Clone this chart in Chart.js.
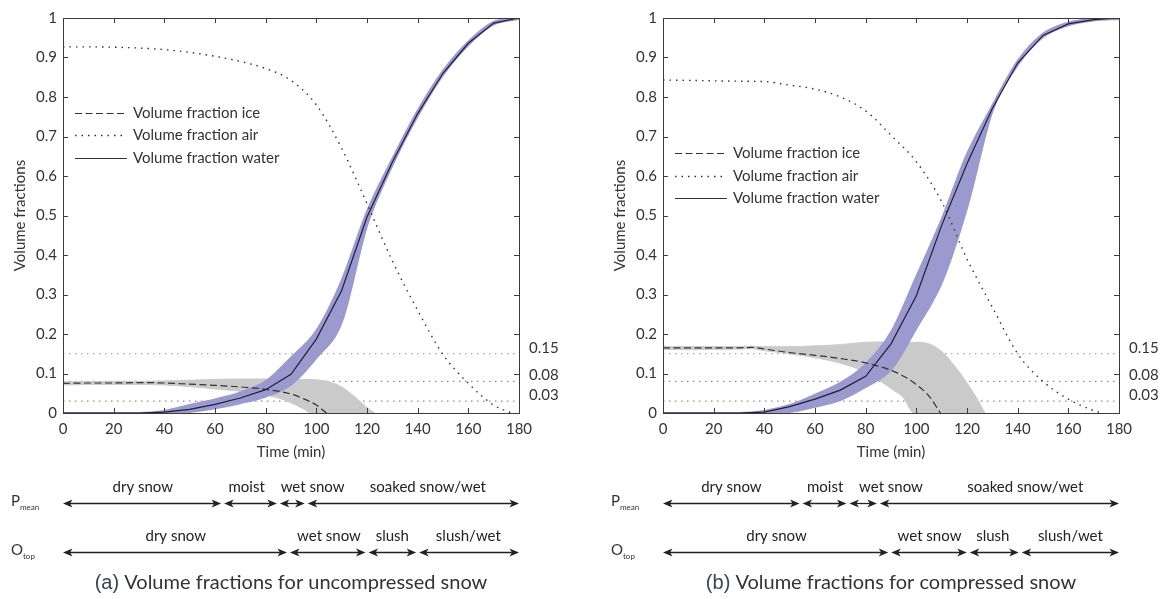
<!DOCTYPE html>
<html>
<head>
<meta charset="utf-8">
<script src="https://cdn.jsdelivr.net/npm/chart.js@4.4.1/dist/chart.umd.min.js"></script>
<style>
  body { margin: 0; background: #fff; width: 1162px; height: 599px; overflow: hidden; position: relative; }
  canvas { position: absolute; top: 0; }
  #chartA { left: 0; }
  #chartB { left: 600px; }
</style>
</head>
<body>
<canvas id="chartA" width="581" height="599"></canvas>
<canvas id="chartB" width="562" height="599"></canvas>
<script>
// ---- data ----
const timeSteps = [0, 10, 20, 30, 40, 50, 60, 70, 80, 90, 100, 110, 120, 130, 140, 150, 160, 170, 180];

// (a) uncompressed snow
const waterA     = [0, 0, 0, 0, 0.002, 0.009, 0.022, 0.038, 0.059, 0.098, 0.187, 0.31, 0.496, 0.635, 0.758, 0.86, 0.936, 0.987, 1.0];
const waterLowA  = [0, 0, 0, 0, 0, 0.003, 0.012, 0.025, 0.042, 0.072, 0.14, 0.23, 0.475, 0.627, 0.752, 0.856, 0.932, 0.984, 0.998];
const waterHighA = [0, 0, 0, 0, 0.005, 0.02, 0.034, 0.052, 0.08, 0.14, 0.208, 0.335, 0.51, 0.643, 0.765, 0.866, 0.94, 0.99, 1.0];
const iceTimeA = [0, 10, 20, 30, 40, 50, 60, 70, 80, 90, 95, 100, 104];
const iceA     = [0.075, 0.076, 0.076, 0.077, 0.076, 0.073, 0.07, 0.066, 0.06, 0.048, 0.036, 0.02, 0];
const iceBandTimeA = [0, 10, 20, 30, 40, 50, 60, 70, 80, 85, 90, 95, 98, 100, 105, 110, 115, 120, 123];
const iceHighA = [0.079, 0.079, 0.08, 0.08, 0.081, 0.083, 0.085, 0.086, 0.086, 0.086, 0.086, 0.085, 0.085, 0.084, 0.079, 0.066, 0.042, 0.014, 0];
const iceLowA  = [0.071, 0.072, 0.072, 0.072, 0.071, 0.067, 0.061, 0.055, 0.046, 0.038, 0.026, 0.01, 0, 0, 0, 0, 0, 0, 0];
const airTimeA = [0, 10, 20, 30, 40, 50, 60, 70, 80, 90, 100, 110, 120, 130, 140, 150, 160, 170, 177];
const airA     = [0.927, 0.927, 0.926, 0.924, 0.92, 0.913, 0.903, 0.89, 0.872, 0.842, 0.78, 0.67, 0.53, 0.385, 0.26, 0.148, 0.075, 0.02, 0];

// (b) compressed snow
const waterB     = [0, 0, 0, 0, 0.002, 0.016, 0.035, 0.058, 0.093, 0.175, 0.297, 0.475, 0.631, 0.771, 0.886, 0.956, 0.985, 0.996, 1.0];
const waterLowB  = [0, 0, 0, 0, 0, 0.003, 0.016, 0.033, 0.066, 0.11, 0.215, 0.33, 0.52, 0.764, 0.881, 0.952, 0.982, 0.994, 0.998];
const waterHighB = [0, 0, 0, 0, 0.005, 0.02, 0.046, 0.076, 0.123, 0.204, 0.345, 0.49, 0.655, 0.778, 0.891, 0.96, 0.988, 0.998, 1.0];
const iceTimeB = [0, 10, 20, 30, 35, 40, 50, 60, 70, 80, 90, 95, 100, 105, 109.5];
const iceB     = [0.165, 0.165, 0.165, 0.165, 0.166, 0.162, 0.153, 0.146, 0.138, 0.127, 0.108, 0.093, 0.072, 0.043, 0];
const iceBandTimeB = [0, 10, 20, 30, 35, 40, 50, 60, 70, 80, 90, 95, 99, 100, 105, 110, 115, 120, 125, 127];
const iceHighB = [0.168, 0.168, 0.168, 0.168, 0.169, 0.168, 0.168, 0.17, 0.173, 0.179, 0.18, 0.179, 0.179, 0.179, 0.175, 0.156, 0.12, 0.076, 0.025, 0];
const iceLowB  = [0.161, 0.161, 0.161, 0.162, 0.163, 0.158, 0.15, 0.14, 0.126, 0.103, 0.062, 0.038, 0, 0, 0, 0, 0, 0, 0, 0];
const airTimeB = [0, 10, 20, 30, 40, 50, 60, 70, 80, 90, 100, 110, 120, 130, 140, 150, 160, 170, 173];
const airB     = [0.843, 0.842, 0.841, 0.84, 0.839, 0.83, 0.82, 0.8, 0.765, 0.703, 0.636, 0.535, 0.39, 0.268, 0.15, 0.08, 0.035, 0.006, 0];

// threshold lines and axis ticks
const refLevels = [0.15, 0.08, 0.03];
const refLabels = ['0.15', '0.08', '0.03'];
const xTickStep = 20;
const yTickStep = 0.1;
const seriesNames = ['Volume fraction ice', 'Volume fraction air', 'Volume fraction water'];

// snow classes along the time axis
const pmeanPhases = ['dry snow', 'moist', 'wet snow', 'soaked snow/wet'];
const otopPhases  = ['dry snow', 'wet snow', 'slush', 'slush/wet'];
const pmeanBoundsA  = [0, 63, 85, 96, 180];
const pmeanLabelAtA = [31.5, 72.5, 98.5, 144];
const otopBoundsA   = [0, 89, 120, 140, 180];
const otopLabelAtA  = [44.5, 105, 130, 160];
const pmeanBoundsB  = [0, 54.5, 73, 85, 180];
const pmeanLabelAtB = [27, 64, 90, 143];
const otopBoundsB   = [0, 89.5, 120.5, 141, 180];
const otopLabelAtB  = [44.8, 105.2, 130.2, 160.8];

const FONT = 'Lato';
const TEXT = '#333';
const BLUE = '#9a9acf';
const GREY = '#cacaca';

function pts(xs, ys) {
  return xs.map((x, i) => ({ x: x, y: ys[i] }));
}

function arrowHead(ctx, x, y, dir) {
  ctx.beginPath();
  ctx.moveTo(x, y);
  ctx.lineTo(x - dir * 9.5, y - 4);
  ctx.lineTo(x - dir * 7, y);
  ctx.lineTo(x - dir * 9.5, y + 4);
  ctx.closePath();
  ctx.fill();
}

function drawRow(ctx, xs, bounds, names, at, textY, lineY) {
  ctx.font = '15px ' + FONT;
  ctx.textAlign = 'center';
  ctx.textBaseline = 'middle';
  for (let i = 0; i < names.length; i++) {
    const x1 = xs.getPixelForValue(bounds[i]) + (i > 0 ? 1.5 : 0);
    const x2 = xs.getPixelForValue(bounds[i + 1]) - (i < names.length - 1 ? 1.5 : 0);
    ctx.beginPath();
    ctx.moveTo(x1 + 4, lineY);
    ctx.lineTo(x2 - 4, lineY);
    ctx.stroke();
    arrowHead(ctx, x1, lineY, -1);
    arrowHead(ctx, x2, lineY, 1);
    ctx.fillText(names[i], xs.getPixelForValue(at[i]), textY);
  }
}

function subLabel(ctx, x, y, main, sub) {
  ctx.textAlign = 'left';
  ctx.textBaseline = 'middle';
  ctx.font = '15px ' + FONT;
  ctx.fillText(main, x, y);
  const w = ctx.measureText(main).width;
  ctx.font = '8px ' + FONT;
  ctx.fillText(sub, x + w, y + 6);
}

function decorPlugin(p) {
  return {
    id: 'decor',
    afterDraw(chart) {
      const ctx = chart.ctx;
      const xs = chart.scales.x, ys = chart.scales.y;
      const { left, right, top, bottom } = chart.chartArea;
      ctx.save();

      // box + inward ticks
      ctx.strokeStyle = '#3a3a3a';
      ctx.lineWidth = 1;
      ctx.strokeRect(Math.round(left) + 0.5, Math.round(top) + 0.5, Math.round(right - left), Math.round(bottom - top));
      ctx.beginPath();
      xs.ticks.forEach(t => {
        const x = Math.round(xs.getPixelForValue(t.value)) + 0.5;
        ctx.moveTo(x, bottom); ctx.lineTo(x, bottom - 5);
        ctx.moveTo(x, top); ctx.lineTo(x, top + 5);
      });
      ys.ticks.forEach(t => {
        const y = Math.round(ys.getPixelForValue(t.value)) + 0.5;
        ctx.moveTo(left, y); ctx.lineTo(left + 5, y);
        ctx.moveTo(right, y); ctx.lineTo(right - 5, y);
      });
      ctx.stroke();

      // threshold labels
      ctx.fillStyle = TEXT;
      ctx.font = '15px ' + FONT;
      ctx.textAlign = 'left';
      ctx.textBaseline = 'middle';
      refLevels.forEach((v, i) => {
        ctx.fillText(refLabels[i], right + 10, ys.getPixelForValue(v) - 6);
      });

      // legend
      const lx = left + 12;
      const ly = ys.getPixelForValue(p.legendAt);
      const dashes = [[7, 3.5], [1.5, 5], []];
      seriesNames.forEach((name, i) => {
        const y = Math.round(ly + i * 22.5) + 0.5;
        ctx.strokeStyle = '#333';
        ctx.lineWidth = i === 1 ? 1.4 : 1.2;
        ctx.setLineDash(dashes[i]);
        ctx.beginPath();
        ctx.moveTo(lx, y);
        ctx.lineTo(lx + 52, y);
        ctx.stroke();
        ctx.setLineDash([]);
        ctx.fillText(name, lx + 58, y);
      });

      // class arrows below the axis
      ctx.strokeStyle = '#222';
      ctx.fillStyle = '#222';
      ctx.lineWidth = 1.3;
      drawRow(ctx, xs, p.pmeanBounds, pmeanPhases, p.pmeanLabelAt, 487, 503.5);
      drawRow(ctx, xs, p.otopBounds, otopPhases, p.otopLabelAt, 536, 552.5);
      ctx.fillStyle = TEXT;
      subLabel(ctx, left - 52, 501, 'P', 'mean');
      subLabel(ctx, left - 52, 550, 'O', 'top');

      // caption
      const cx = (left + right) / 2;
      ctx.textBaseline = 'middle';
      ctx.font = '20px "Liberation Sans"';
      const w1 = ctx.measureText(p.tag).width;
      ctx.font = '20px ' + FONT;
      const w2 = ctx.measureText(p.caption).width;
      const x0 = cx - (w1 + w2) / 2;
      ctx.textAlign = 'left';
      ctx.fillStyle = '#3d4250';
      ctx.font = '20px "Liberation Sans"';
      ctx.fillText(p.tag, x0, 583);
      ctx.fillStyle = TEXT;
      ctx.font = '20px ' + FONT;
      ctx.fillText(p.caption, x0 + w1, 583);

      ctx.restore();
    }
  };
}

function makeChart(id, p) {
  const datasets = [];
  refLevels.forEach(v => {
    datasets.push({ data: [{ x: 0, y: v }, { x: 180, y: v }], borderColor: '#8a8a8a', borderWidth: 1.2,
      borderDash: [1.5, 4.5], pointRadius: 0, fill: false, order: 6 });
  });
  datasets.push({ data: pts(p.iceBandTime, p.iceHigh), borderColor: GREY, backgroundColor: GREY, borderWidth: 1,
    pointRadius: 0, fill: '+1', order: 5, cubicInterpolationMode: 'monotone' });
  datasets.push({ data: pts(p.iceBandTime, p.iceLow), borderColor: GREY, borderWidth: 1,
    pointRadius: 0, fill: false, order: 5, cubicInterpolationMode: 'monotone' });
  datasets.push({ data: pts(timeSteps, p.waterHigh), borderColor: BLUE, backgroundColor: BLUE, borderWidth: 2.2,
    pointRadius: 0, fill: '+1', order: 4, cubicInterpolationMode: 'monotone' });
  datasets.push({ data: pts(timeSteps, p.waterLow), borderColor: BLUE, borderWidth: 2.2,
    pointRadius: 0, fill: false, order: 4, cubicInterpolationMode: 'monotone' });
  datasets.push({ label: seriesNames[1], data: pts(p.airTime, p.air), borderColor: '#333', borderWidth: 1.4,
    borderDash: [1.5, 5], pointRadius: 0, fill: false, order: 3, cubicInterpolationMode: 'monotone' });
  datasets.push({ label: seriesNames[0], data: pts(p.iceTime, p.ice), borderColor: '#333', borderWidth: 1.2,
    borderDash: [7, 3.5], pointRadius: 0, fill: false, order: 2, cubicInterpolationMode: 'monotone' });
  datasets.push({ label: seriesNames[2], data: pts(timeSteps, p.water), borderColor: '#1e1e3c', borderWidth: 1.2,
    pointRadius: 0, fill: false, order: 1 });

  return new Chart(document.getElementById(id), {
    type: 'line',
    data: { datasets: datasets },
    options: {
      responsive: false,
      animation: false,
      layout: { padding: { left: 0, right: p.padRight, top: 18, bottom: 0 } },
      plugins: { legend: { display: false }, tooltip: { enabled: false } },
      scales: {
        x: {
          type: 'linear', min: 0, max: 180,
          ticks: { stepSize: xTickStep, autoSkip: false, maxRotation: 0, color: TEXT, padding: 7, font: { family: FONT, size: 15 } },
          grid: { display: false, drawTicks: false },
          border: { display: false },
          title: { display: true, text: 'Time (min)', color: TEXT, font: { family: FONT, size: 15 }, padding: { top: 0, bottom: 138 } },
          afterFit(s) { s.height = 186; }
        },
        y: {
          min: 0, max: 1,
          ticks: {
            stepSize: yTickStep, autoSkip: false, color: TEXT, padding: 6, font: { family: FONT, size: 15 },
            callback: v => String(Number(v.toFixed(1)))
          },
          grid: { display: false, drawTicks: false },
          border: { display: false },
          title: { display: true, text: 'Volume fractions', color: TEXT, font: { family: FONT, size: 15 }, padding: { top: 11, bottom: 0 } },
          afterFit(s) { s.width = 63; }
        }
      }
    },
    plugins: [decorPlugin(p)]
  });
}

makeChart('chartA', {
  water: waterA, waterLow: waterLowA, waterHigh: waterHighA,
  iceTime: iceTimeA, ice: iceA, iceBandTime: iceBandTimeA, iceHigh: iceHighA, iceLow: iceLowA,
  airTime: airTimeA, air: airA,
  pmeanBounds: pmeanBoundsA, pmeanLabelAt: pmeanLabelAtA, otopBounds: otopBoundsA, otopLabelAt: otopLabelAtA,
  legendAt: 0.76, padRight: 62,
  tag: '(a)', caption: ' Volume fractions for uncompressed snow'
});

makeChart('chartB', {
  water: waterB, waterLow: waterLowB, waterHigh: waterHighB,
  iceTime: iceTimeB, ice: iceB, iceBandTime: iceBandTimeB, iceHigh: iceHighB, iceLow: iceLowB,
  airTime: airTimeB, air: airB,
  pmeanBounds: pmeanBoundsB, pmeanLabelAt: pmeanLabelAtB, otopBounds: otopBoundsB, otopLabelAt: otopLabelAtB,
  legendAt: 0.658, padRight: 43,
  tag: '(b)', caption: ' Volume fractions for compressed snow'
});
</script>
</body>
</html>
